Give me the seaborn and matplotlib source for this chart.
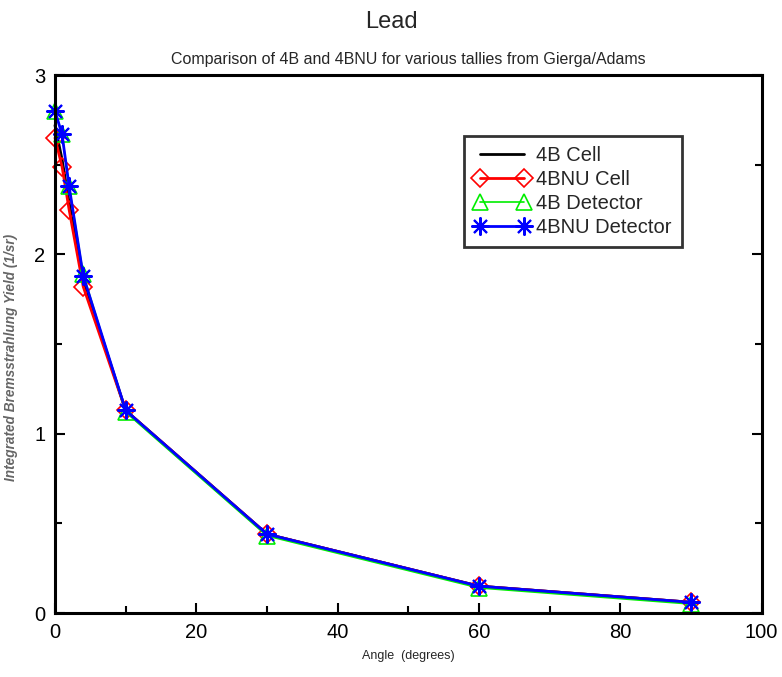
import matplotlib
matplotlib.use("Agg")
import matplotlib.pyplot as plt
import seaborn as sns
import numpy as np
from matplotlib.ticker import MultipleLocator

angles = [0, 1, 2, 4, 10, 30, 60, 90]
cell_4b = [2.72, 2.53, 2.29, 1.86, 1.13, 0.44, 0.15, 0.06]
cell_4bnu = [2.65, 2.49, 2.25, 1.82, 1.13, 0.44, 0.15, 0.06]
det_4b = [2.80, 2.67, 2.38, 1.89, 1.12, 0.43, 0.14, 0.05]
det_4bnu = [2.80, 2.67, 2.38, 1.88, 1.13, 0.44, 0.15, 0.06]
series_names = ["4B Cell", "4BNU Cell", "4B Detector", "4BNU Detector"]

sns.set_style("white")
plt.rcParams['font.family'] = ['Liberation Sans', 'DejaVu Sans']

fig = plt.figure(figsize=(7.82, 6.77), dpi=100)
ax = fig.add_axes([0.0703, 0.0945, 0.9037, 0.7945])

sns.lineplot(x=angles, y=cell_4b, ax=ax, color='black', lw=2, label=series_names[0],
             clip_on=False)
sns.lineplot(x=angles, y=cell_4bnu, ax=ax, color='red', lw=2, marker='D',
             markersize=9, mfc='none', mec='red', mew=1.2, label=series_names[1],
             clip_on=False)
sns.lineplot(x=angles, y=det_4b, ax=ax, color='#00ee00', lw=1.2, marker='^',
             markersize=11, mfc='none', mec='#00ee00', mew=1.2, label=series_names[2],
             clip_on=False)
sns.lineplot(x=angles, y=det_4bnu, ax=ax, color='blue', lw=2, marker=(8, 2, 0),
             markersize=13, mec='blue', mew=1.5, label=series_names[3],
             clip_on=False)

ax.set_xlim(0, 100)
ax.set_ylim(0, 3)
ax.xaxis.set_major_locator(MultipleLocator(20))
ax.xaxis.set_minor_locator(MultipleLocator(10))
ax.yaxis.set_major_locator(MultipleLocator(1))
ax.yaxis.set_minor_locator(MultipleLocator(0.5))
ax.tick_params(which='both', direction='in', bottom=True, left=True, top=False,
               right=True, width=1.5, labelsize=14.5, pad=7, colors='black')
ax.tick_params(which='major', length=7)
ax.tick_params(which='minor', length=5)
for s in ax.spines.values():
    s.set_linewidth(2.2)
    s.set_color('black')

ax.set_xlabel("Angle  (degrees)", fontsize=9, labelpad=6)
ax.set_ylabel("Integrated Bremsstrahlung Yield (1/sr)", fontsize=9.8, style='italic',
              fontweight='bold', color='#666666')
ax.yaxis.set_label_coords(-0.052, 0.476)

fig.text(0.5, 0.968, "Lead", ha='center', va='center', fontsize=17)
ax.set_title("Comparison of 4B and 4BNU for various tallies from Gierga/Adams",
             fontsize=11.5, pad=8)

leg = ax.legend(loc='upper left', bbox_to_anchor=(0.5785, 0.887), numpoints=2,
                fontsize=14.5, frameon=True, fancybox=False, edgecolor='black',
                handlelength=2.8, handletextpad=0.3, borderpad=0.5, labelspacing=0.25,
                borderaxespad=0)
leg.get_frame().set_linewidth(2)

fig.savefig("out.png", dpi=100)
